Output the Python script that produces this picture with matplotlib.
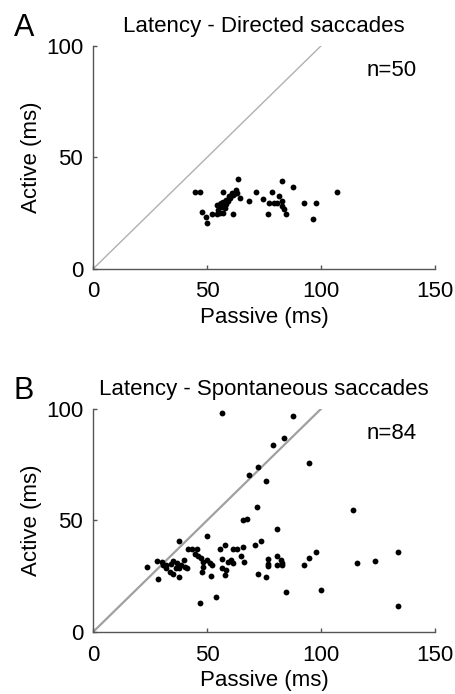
import matplotlib
matplotlib.use("Agg")
import matplotlib.pyplot as plt

plt.rcParams['font.family'] = ['Liberation Sans', 'DejaVu Sans']

# Panel A: directed saccades (passive, active latency in ms)
directed_passive = [44.8, 46.8, 47.8, 49.7, 49.9, 52.3, 54.5, 55.8, 57.2, 54.5,
                    55.4, 56.0, 57.2, 58.2, 59.1, 60.1, 56.9, 61.5, 62.7, 63.7,
                    63.3, 64.6, 61.6, 68.6, 71.6, 74.7, 76.6, 78.5, 77.3, 79.5,
                    81.7, 82.7, 82.7, 82.7, 84.5, 83.6, 87.9, 92.7, 97.8, 96.6,
                    107.2, 55.0, 55.5, 56.5, 57.8, 58.5, 59.8, 61.0, 62.0, 80.5]
directed_active = [34.3, 34.3, 25.5, 23.5, 20.5, 24.6, 24.6, 25.0, 25.2, 28.7,
                   27.7, 29.5, 29.9, 29.0, 30.6, 31.7, 34.3, 33.2, 35.4, 40.4,
                   34.0, 32.0, 24.8, 30.6, 34.5, 31.5, 24.7, 34.5, 29.6, 29.6,
                   32.6, 30.6, 28.1, 39.6, 24.7, 27.0, 36.6, 29.6, 29.6, 22.6,
                   34.5, 26.5, 29.0, 28.0, 27.5, 31.0, 32.5, 34.0, 33.5, 29.8]

# Panel B: spontaneous saccades
spont_passive = [56.7, 87.9, 83.8, 78.8, 94.7, 72.5, 68.6, 75.7, 71.8, 113.9,
                 65.6, 67.7, 80.8, 49.9, 37.7, 73.8, 57.7, 70.9, 55.5, 41.8,
                 43.3, 45.6, 61.5, 63.0, 65.6, 97.8, 133.8, 44.6, 46.2, 80.8,
                 65.1, 94.9, 47.5, 49.9, 56.6, 60.5, 76.8, 123.8, 27.9, 30.4,
                 35.2, 39.8, 48.4, 51.3, 61.5, 66.4, 82.5, 115.8, 52.3, 31.9,
                 34.2, 38.6, 40.5, 48.2, 56.7, 76.8, 76.8, 83.0, 92.5, 23.7,
                 31.9, 36.3, 37.7, 58.5, 33.6, 35.2, 47.8, 58.0, 72.5, 28.7,
                 37.7, 51.6, 75.7, 84.8, 100.0, 53.8, 46.8, 133.8, 36.7, 80.6,
                 82.8, 59.3, 41.2, 30.9]
spont_active = [98.1, 97.0, 87.0, 84.0, 75.8, 73.9, 70.3, 67.9, 56.0, 54.9,
                50.0, 50.7, 46.0, 43.0, 41.0, 41.0, 39.0, 39.0, 37.0, 37.0,
                37.0, 37.0, 37.0, 37.0, 37.9, 36.0, 36.0, 35.1, 34.0, 34.0,
                34.0, 33.0, 33.0, 32.1, 32.7, 32.4, 32.7, 31.9, 31.9, 31.5,
                31.9, 32.4, 31.2, 31.0, 30.9, 31.3, 32.1, 30.9, 29.9, 29.9,
                30.4, 29.9, 29.1, 29.1, 28.8, 30.4, 29.6, 29.9, 29.9, 29.0,
                28.8, 28.5, 28.8, 27.9, 26.9, 26.1, 26.7, 25.7, 26.0, 23.9,
                24.8, 24.9, 24.8, 17.8, 18.8, 15.8, 12.8, 11.8, 30.9, 29.9,
                30.9, 31.5, 28.6, 30.2]

panels = [
    ('A', 'Latency - Directed saccades', directed_passive, directed_active, 0.6124, 1.0, '#b0b0b0'),
    ('B', 'Latency - Spontaneous saccades', spont_passive, spont_active, 0.0893, 1.6, '#a0a0a0'),
]

fig = plt.figure(figsize=(4.55, 6.94), dpi=100)

for letter, title, xs, ys, bottom, lw, lc in panels:
    ax = fig.add_axes([0.2044, bottom, 0.7516, 0.3215])
    ax.plot([0, 100], [0, 100], color=lc, linewidth=lw, zorder=1)
    ax.plot(xs, ys, 'o', color='black', markersize=4.2, markeredgewidth=0, zorder=2)
    ax.set_xlim(0, 150)
    ax.set_ylim(0, 100)
    ax.set_xticks([0, 50, 100, 150])
    ax.set_yticks([0, 50, 100])
    for side in ['top', 'right']:
        ax.spines[side].set_visible(False)
    for side in ['left', 'bottom']:
        ax.spines[side].set_color('#555555')
        ax.spines[side].set_linewidth(1.0)
    ax.tick_params(direction='in', length=3, width=1, color='#555555',
                   labelsize=16)
    ax.tick_params(axis='x', pad=9)
    ax.tick_params(axis='y', pad=7)
    ax.set_xlabel('Passive (ms)', fontsize=16, labelpad=3)
    ax.set_ylabel('Active (ms)', fontsize=16, labelpad=3)
    ax.set_title(title, fontsize=16, pad=10)
    ax.text(120, 89, 'n=%d' % len(xs), fontsize=16, va='center', ha='left')
    ax.text(-0.232, 1.08, letter, transform=ax.transAxes, fontsize=22,
            va='center', ha='left')

fig.savefig('out.png', dpi=100)
